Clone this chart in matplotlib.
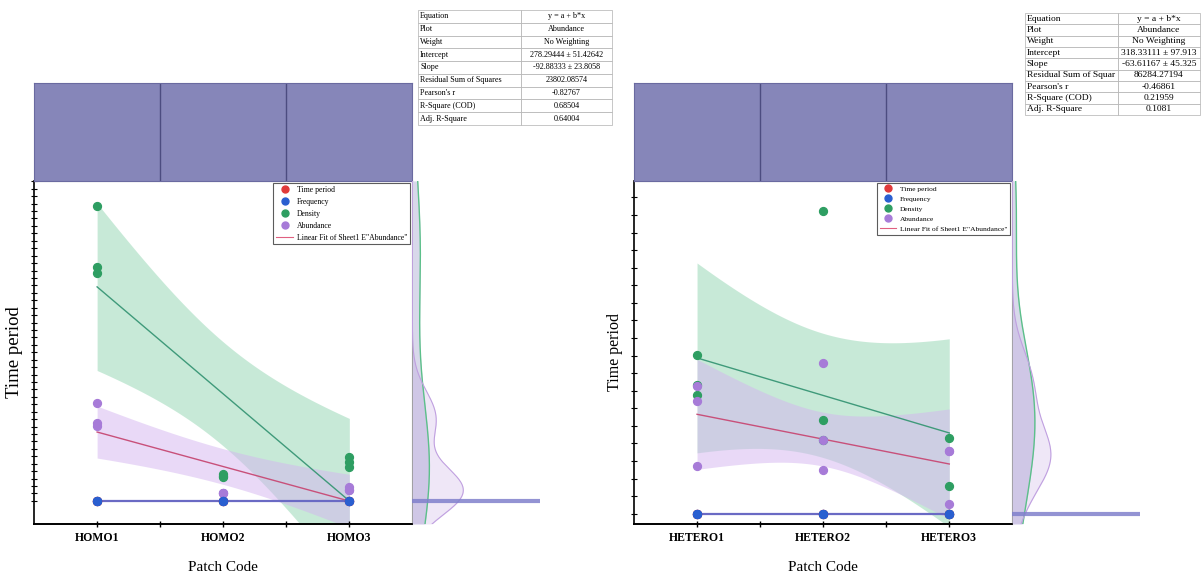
import numpy as np
import matplotlib
matplotlib.use("Agg")
import matplotlib.pyplot as plt
from matplotlib.lines import Line2D

# ---- data ----
homo_cats = ["HOMO1", "HOMO2", "HOMO3"]
hetero_cats = ["HETERO1", "HETERO2", "HETERO3"]
group_x = [1, 1, 1, 2, 2, 2, 3, 3, 3]

homo_time = [0, 0, 0, 0, 0, 0, 0, 0, 0]
homo_freq = [0, 0, 0, 0, 0, 0, 0, 0, 0]
homo_density = [794, 630, 613, 73, 65, 68, 118, 105, 91]
homo_abundance = [264, 210, 202, 22, 22, 22, 38, 30, 30]
homo_density_fit = [576, 288, 0]
homo_density_ci = [225, 140, 222]
homo_abund_ci = [70, 48, 72]
homo_intercept, homo_slope = 278.29444, -92.88333

hetero_time = [0, 0, 0, 0, 0, 0, 0, 0, 0]
hetero_freq = [0, 0, 0, 0, 0, 0, 0, 0, 0]
hetero_density = [407, 330, 305, 774, 241, 189, 194, 72, 0]
hetero_abundance = [326, 288, 123, 386, 189, 113, 162, 162, 26]
hetero_density_fit = [399, 303, 207]
hetero_density_ci = [243, 159, 241]
hetero_abund_ci = [141, 69, 141]
hetero_intercept, hetero_slope = 318.33111, -63.61167

homo_table = [
    ["Equation", "y = a + b*x"],
    ["Plot", "Abundance"],
    ["Weight", "No Weighting"],
    ["Intercept", "278.29444 \u00b1 51.42642"],
    ["Slope", "-92.88333 \u00b1 23.8058"],
    ["Residual Sum of Squares", "23802.08574"],
    ["Pearson's r", "-0.82767"],
    ["R-Square (COD)", "0.68504"],
    ["Adj. R-Square", "0.64004"],
]
hetero_table = [
    ["Equation", "y = a + b*x"],
    ["Plot", "Abundance"],
    ["Weight", "No Weighting"],
    ["Intercept", "318.33111 \u00b1 97.913"],
    ["Slope", "-63.61167 \u00b1 45.325"],
    ["Residual Sum of Squar", "86284.27194"],
    ["Pearson's r", "-0.46861"],
    ["R-Square (COD)", "0.21959"],
    ["Adj. R-Square", "0.1081"],
]

RED = "#e03a3a"
BLUE = "#2a5fd0"
GREEN = "#2e9e62"
PURPLE = "#a77bd8"
HEADER = "#8686b9"
SERIF = "Liberation Serif"


def band(xs, fit, hw):
    # hyperbolic confidence band through the read half-widths
    centre = np.interp(xs, [1, 2, 3], fit)
    end = np.where(xs < 2, hw[0], hw[2])
    half = np.sqrt(hw[1] ** 2 + (end ** 2 - hw[1] ** 2) * (xs - 2) ** 2)
    return centre - half, centre + half


def kde(vals, grid):
    vals = np.asarray(vals, float)
    bw = vals.std(ddof=1) * len(vals) ** (-0.2)
    d = np.exp(-0.5 * ((grid[:, None] - vals[None, :]) / bw) ** 2)
    return d.sum(axis=1) / (len(vals) * bw * np.sqrt(2 * np.pi))


def panel(fig, left, cats, time, freq, dens, abund, dens_fit, dens_ci,
          abund_ci, intercept, slope, ylim, ystep, table_rows, table_box,
          table_fs, ylabel_fs, legend_fs, marg_scale):
    bottom, height = 0.0919, 0.5945
    width = 0.3145
    ax = fig.add_axes([left, bottom, width, height])
    head = fig.add_axes([left, 0.6863, width, 0.1698])
    marg = fig.add_axes([left + width, bottom, 0.1058, height])

    xs = np.linspace(1, 3, 200)
    pos = [1, 2, 3]
    abund_fit = [intercept + slope * p for p in pos]

    lo, hi = band(xs, dens_fit, dens_ci)
    ax.fill_between(xs, lo, hi, color="#91d5b1", alpha=0.5, lw=0, zorder=1)
    lo, hi = band(xs, abund_fit, abund_ci)
    ax.fill_between(xs, lo, hi, color="#d4b4f0", alpha=0.5, lw=0, zorder=1)

    ax.plot(pos, dens_fit, color="#3f9a7a", lw=1.0, zorder=2)
    ax.plot(pos, abund_fit, color="#c8507a", lw=1.0, zorder=2)
    ax.plot(pos, [np.mean(freq[i * 3:i * 3 + 3]) for i in range(3)],
            color="#6a6ac4", lw=1.6, zorder=2)

    ms = 32
    ax.scatter(group_x, time, s=ms, color=RED, zorder=3)
    ax.scatter(group_x, dens, s=ms, color=GREEN, zorder=3)
    ax.scatter(group_x, abund, s=ms, color=PURPLE, zorder=3)
    ax.scatter(group_x, freq, s=ms, color=BLUE, zorder=4)

    ax.set_xlim(0.5, 3.5)
    ax.set_ylim(*ylim)
    ax.set_xticks(pos)
    ax.set_xticklabels(cats, fontfamily=SERIF, fontweight="bold", fontsize=8.5)
    ax.set_xticks([1.5, 2.5], minor=True)
    ax.set_yticks(np.arange(0, ylim[1], ystep))
    ax.set_yticklabels([])
    ax.tick_params(axis="x", which="both", direction="inout", length=5, width=1)
    ax.tick_params(axis="y", direction="inout", length=4, width=0.8)
    for s in ["top", "right"]:
        ax.spines[s].set_color("#9a9a9a")
    ax.spines["left"].set_linewidth(1.2)
    ax.spines["bottom"].set_linewidth(1.4)
    ax.set_xlabel("Patch Code", fontfamily=SERIF, fontsize=11, labelpad=12)
    ax.set_ylabel("Time period", fontfamily=SERIF, fontsize=ylabel_fs)
    ax.yaxis.set_label_coords(-0.029, 0.5)

    handles = [
        Line2D([], [], ls="none", marker="o", ms=5, color=RED, label="Time period"),
        Line2D([], [], ls="none", marker="o", ms=5, color=BLUE, label="Frequency"),
        Line2D([], [], ls="none", marker="o", ms=5, color=GREEN, label="Density"),
        Line2D([], [], ls="none", marker="o", ms=5, color=PURPLE, label="Abundance"),
        Line2D([], [], color="#e06080", lw=0.8,
               label='Linear Fit of Sheet1 E"Abundance"'),
    ]
    leg = ax.legend(handles=handles, loc="upper right", fancybox=False,
                    prop={"family": SERIF, "size": legend_fs},
                    borderaxespad=0.3, handlelength=2.2, labelspacing=0.5,
                    borderpad=0.35, handletextpad=0.5)
    leg.get_frame().set_edgecolor("#333333")
    leg.get_frame().set_linewidth(0.8)

    # purple header strip
    head.set_facecolor(HEADER)
    head.set_xlim(0.5, 3.5)
    head.set_ylim(0, 1)
    head.vlines([1.5, 2.5], 0, 1, color="#4c4c80", lw=1)
    head.set_xticks([])
    head.set_yticks([])
    for s in head.spines.values():
        s.set_color("#6a6aa0")

    # marginal distributions
    grid = np.linspace(ylim[0], ylim[1], 400)
    kd = kde(dens, grid)
    ka = kde(abund, grid)
    marg.fill_betweenx(grid, 0, kd, color="#d8d8ea", lw=0)
    marg.plot(kd, grid, color="#5cc08a", lw=1)
    marg.fill_betweenx(grid, 0, ka, color=PURPLE, alpha=0.18, lw=0)
    marg.plot(ka, grid, color="#c0a0e0", lw=0.8)
    marg.axhline(np.mean(freq), color="#8080cc", lw=3, alpha=0.85)
    marg.set_ylim(*ylim)
    marg.set_xlim(0, ka.max() * marg_scale)
    marg.axis("off")

    # fit results table
    tax = fig.add_axes(table_box)
    tax.axis("off")
    tab = tax.table(cellText=table_rows, colWidths=[0.53, 0.47],
                    bbox=[0, 0, 1, 1])
    tab.auto_set_font_size(False)
    for (r, c), cell in tab.get_celld().items():
        cell.set_edgecolor("#b0b0b0")
        cell.set_linewidth(0.5)
        t = cell.get_text()
        t.set_fontfamily(SERIF)
        t.set_fontsize(table_fs)
        if c == 0:
            t.set_ha("left")
            cell.PAD = 0.02
        else:
            t.set_ha("center")
    return ax


fig = plt.figure(figsize=(12.03, 5.77), dpi=100)
fig.patch.set_facecolor("white")

panel(fig, 0.0283, homo_cats, homo_time, homo_freq, homo_density,
      homo_abundance, homo_density_fit, homo_density_ci, homo_abund_ci,
      homo_intercept, homo_slope, (-62, 861), 20, homo_table,
      [0.3475, 0.7834, 0.1613, 0.1993], 5.9, 13.5, 5.6, 2.5)

panel(fig, 0.527, hetero_cats, hetero_time, hetero_freq, hetero_density,
      hetero_abundance, hetero_density_fit, hetero_density_ci, hetero_abund_ci,
      hetero_intercept, hetero_slope, (-26, 852), 45, hetero_table,
      [0.852, 0.8007, 0.1455, 0.1768], 6.8, 11.5, 5.4, 3.3)

fig.savefig("out.png", dpi=100)
